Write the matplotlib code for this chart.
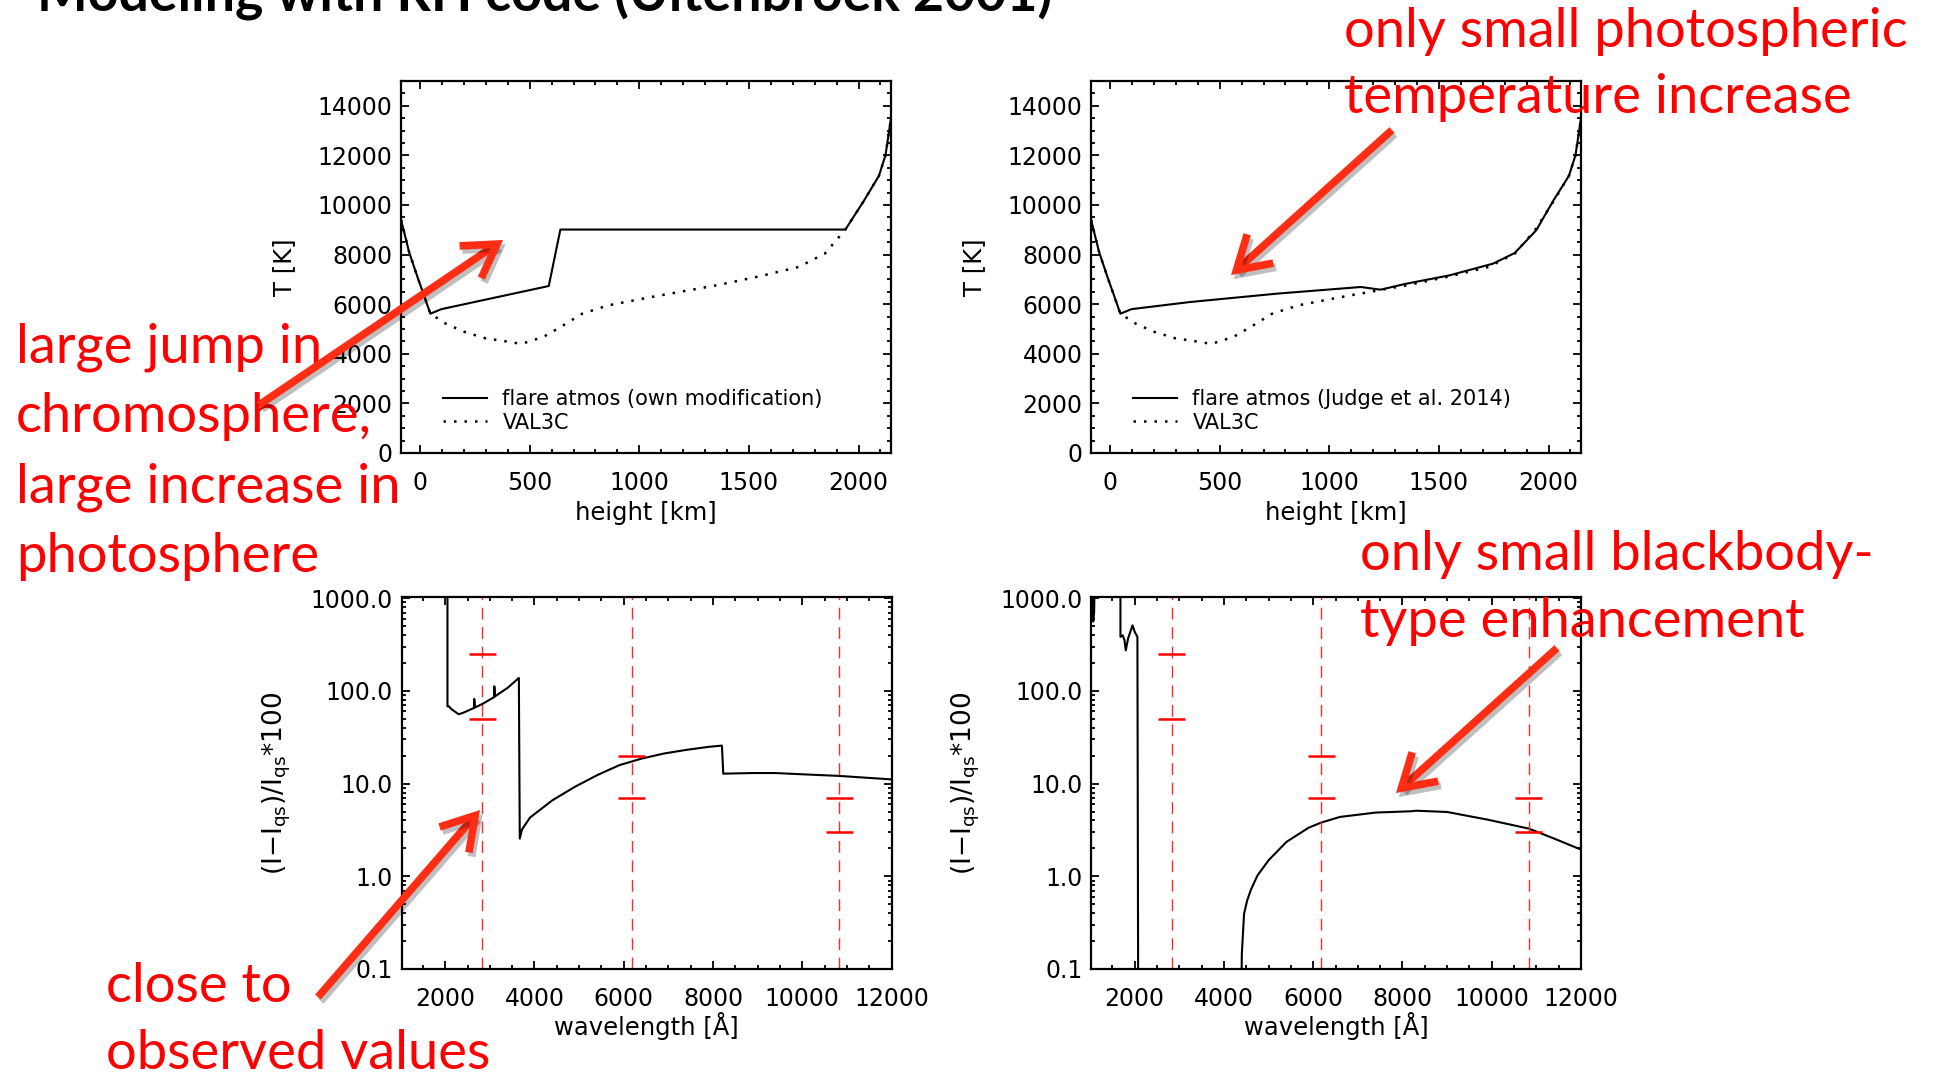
import numpy as np
import matplotlib
matplotlib.use("Agg")
import matplotlib.pyplot as plt
from matplotlib.ticker import MultipleLocator, FuncFormatter, LogLocator, NullFormatter
from matplotlib.patches import FancyArrowPatch, ArrowStyle
import matplotlib.patheffects as pe

# ---------------- data ----------------
# Top panels: temperature vs height
val3c_h = [-87, -50, -12, 20, 47, 120, 205, 300, 364, 462, 561, 640, 739, 858, 1055, 1352, 1549, 1727, 1846, 1940, 2023, 2093, 2123, 2148]
val3c_T = [9414, 8100, 7100, 6300, 5616, 5200, 4875, 4620, 4540, 4400, 4673, 5077, 5616, 5953, 6290, 6761, 7125, 7502, 8040, 9010, 10150, 11178, 12013, 13500]

own_h = [-87, -50, -12, 20, 47, 97, 587, 640, 1940, 2023, 2093, 2123, 2148]
own_T = [9414, 8100, 7100, 6300, 5616, 5800, 6734, 9010, 9010, 10150, 11178, 12013, 13500]

judge_h = [-87, -50, -12, 20, 47, 97, 364, 759, 1144, 1233, 1352, 1549, 1747, 1846, 1944, 2023, 2093, 2123, 2148]
judge_T = [9414, 8100, 7100, 6300, 5616, 5800, 6087, 6424, 6694, 6586, 6828, 7165, 7636, 8067, 8983, 10195, 11178, 12013, 13500]

# Bottom panels: contrast spectra
own_wl = [2050, 2050, 2080, 2150, 2300, 2400, 2600, 2650, 2650, 2660, 2850, 3100, 3100, 3110, 3400, 3650, 3670, 3720, 3900,
          4400, 4900, 5400, 5900, 6400, 6900, 7400, 7900, 8200, 8230, 8900, 9400, 10000, 10830, 11400, 12000]
own_c = [3000, 68, 68, 63, 56, 58, 64, 66, 82, 66, 73, 86, 112, 87, 108, 138, 2.55, 3.2, 4.3,
         6.6, 9.2, 12.3, 15.8, 18.6, 21.1, 23.1, 24.9, 25.7, 12.8, 13.0, 13.0, 12.6, 12.1, 11.6, 11.1]

judge_wl = [1030, 1050, 1070, 1090, 1110, 1680, 1680, 1730, 1770, 1800, 1850, 1950, 2000, 2060, 2080, 4370,
            4400, 4450, 4520, 4600, 4750, 5000, 5400, 5900, 6180, 6600, 7400, 8200, 8300, 9000, 9900, 10830, 11400, 12000]
judge_c = [3000, 900, 560, 700, 3000, 3000, 383, 398, 352, 274, 367, 510, 433, 383, 0.01, 0.01,
           0.146, 0.395, 0.55, 0.71, 1.02, 1.49, 2.35, 3.35, 3.8, 4.37, 4.87, 5.03, 5.1, 4.94, 4.09, 3.27, 2.55, 1.94]

# Observed values (red marks)
obs_wl = [2830, 6180, 10830]
obs_hi = [250, 20, 7]
obs_lo = [50, 7, 3]

height_ticks = [0, 500, 1000, 1500, 2000]
temp_ticks = [0, 2000, 4000, 6000, 8000, 10000, 12000, 14000]
wl_ticks = [2000, 4000, 6000, 8000, 10000, 12000]
contrast_ticks = [0.1, 1.0, 10.0, 100.0, 1000.0]

# ---------------- figure ----------------
W, H = 1936, 1075
fig = plt.figure(figsize=(W / 100, H / 100), dpi=100)
plt.rcParams['font.family'] = ['DejaVu Sans']
plt.rcParams['mathtext.default'] = 'regular'

def axpos(left, top, w=490, h=372):
    return [left / W, 1 - (top + h) / H, w / W, h / H]

def style(ax):
    for s in ax.spines.values():
        s.set_linewidth(1.6)
    ax.tick_params(which='both', direction='in', top=True, right=True, width=1.3, labelsize=17)
    ax.tick_params(which='major', length=6)
    ax.tick_params(which='minor', length=3)
    ax.tick_params(axis='x', pad=13)
    ax.tick_params(axis='y', pad=6)

def top_panel(ax, h, T, label):
    ax.plot(h, T, color='black', lw=1.5, label=label)
    ax.plot(val3c_h, val3c_T, color='black', lw=1.8, ls=(0, (1, 3.2)), label='VAL3C')
    ax.set_xlim(-87, 2148)
    ax.set_ylim(0, 15000)
    ax.set_xticks(height_ticks)
    ax.set_yticks(temp_ticks)
    ax.xaxis.set_minor_locator(MultipleLocator(100))
    ax.yaxis.set_minor_locator(MultipleLocator(500))
    style(ax)
    ax.set_xlabel('height [km]', fontsize=17.5)
    ax.set_ylabel('T [K]', fontsize=17.5)
    ax.xaxis.set_label_coords(0.5, -0.128)
    ax.yaxis.set_label_coords(-0.214, 0.5)
    ax.legend(loc='lower left', bbox_to_anchor=(0.0857, 0.055), frameon=False, fontsize=15,
              handlelength=2.1, handletextpad=0.75, borderpad=0, borderaxespad=0, labelspacing=0.15)

def bottom_panel(ax, wl, c):
    ax.set_yscale('log')
    ax.plot(wl, c, color='black', lw=1.5)
    for x, hi, lo in zip(obs_wl, obs_hi, obs_lo):
        ax.axvline(x, color='#ff2a2a', lw=1.0, ls=(0, (8.5, 5.5)))
        ax.hlines([hi, lo], x - 300, x + 300, color='red', lw=1.8)
    ax.set_xlim(1020, 12000)
    ax.set_ylim(0.1, 1030)
    ax.set_xticks(wl_ticks)
    ax.xaxis.set_minor_locator(MultipleLocator(500))
    ax.set_yticks(contrast_ticks)
    ax.yaxis.set_minor_locator(LogLocator(base=10, subs=np.arange(2, 10)))
    ax.yaxis.set_minor_formatter(NullFormatter())
    ax.yaxis.set_major_formatter(FuncFormatter(lambda v, p: '%.1f' % v))
    style(ax)
    ax.set_xlabel('wavelength [Å]', fontsize=17.5)
    ax.set_ylabel('(I$-$I$_{qs}$)/I$_{qs}$*100', fontsize=19)
    ax.xaxis.set_label_coords(0.5, -0.115)
    ax.yaxis.set_label_coords(-0.222, 0.5)

ax1 = fig.add_axes(axpos(401, 81))
top_panel(ax1, own_h, own_T, 'flare atmos (own modification)')
ax2 = fig.add_axes(axpos(1091, 81))
top_panel(ax2, judge_h, judge_T, 'flare atmos (Judge et al. 2014)')
ax3 = fig.add_axes(axpos(401.5, 597))
bottom_panel(ax3, own_wl, own_c)
ax4 = fig.add_axes(axpos(1091, 597))
bottom_panel(ax4, judge_wl, judge_c)

# ---------------- title & annotations ----------------
renderer = fig.canvas.get_renderer()

title = fig.text(37 / W, 1 - 11 / H, 'Modeling with RH code (Uitenbroek 2001)', fontsize=40,
                 fontweight='bold', family=['Lato', 'DejaVu Sans'], color='black', ha='left', va='baseline')
tw = title.get_window_extent(renderer).width
title.set_fontsize(40 * 1013 / tw)

red_lines = [
    ('large jump in', 16, 363, 306),
    ('chromosphere,', 16, 432, 357),
    ('large increase in', 16, 502, 382),
    ('photosphere', 16, 572, 302),
    ('only small photospheric', 1344, 47, 565),
    ('temperature increase', 1344, 113, 511),
    ('only small blackbody-', 1360, 570, 509),
    ('type enhancement', 1360, 637, 446),
    ('close to', 106, 1002, 180),
    ('observed values', 106, 1069, 380),
]
texts = []
ratios = []
for s, x, y, tw_ in red_lines:
    t = fig.text(x / W, 1 - y / H, s, fontsize=30, color='#ff0000', family=['Lato', 'DejaVu Sans'],
                 ha='left', va='baseline', zorder=10)
    texts.append(t)
    ratios.append(tw_ / t.get_window_extent(renderer).width)
fs = 30 * float(np.median(ratios))
for t in texts:
    t.set_fontsize(fs)

arrows = [((259, 405), (503, 240)),
          ((1392, 130), (1231, 275)),
          ((318, 997), (480, 810)),
          ((1557, 648), (1396, 793))]
for (x0, y0), (x1, y1) in arrows:
    a = FancyArrowPatch((x0 / W, 1 - y0 / H), (x1 / W, 1 - y1 / H), transform=fig.transFigure,
                        arrowstyle=ArrowStyle('->', head_length=23, head_width=14), mutation_scale=1,
                        lw=5.5, color='#ff2d14', capstyle='butt', joinstyle='miter', zorder=20,
                        shrinkA=0, shrinkB=0)
    a.set_path_effects([pe.SimpleLineShadow(offset=(2, -3), shadow_color='black', alpha=0.25), pe.Normal()])
    fig.add_artist(a)

fig.savefig('out.png', dpi=100)
